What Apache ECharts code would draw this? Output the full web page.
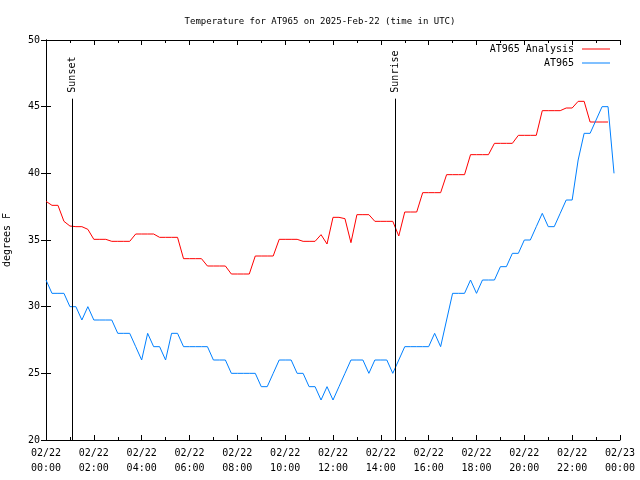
<!DOCTYPE html>
<html>
<head>
<meta charset="utf-8">
<script src="https://cdn.jsdelivr.net/npm/echarts@6/dist/echarts.min.js"></script>
<style>html,body{margin:0;padding:0;background:#fff}#c{width:640px;height:480px}</style>
</head>
<body>
<div id="c"></div>
<script>
var titleText = 'Temperature for AT965 on 2025-Feb-22 (time in UTC)';
var seriesNames = ['AT965 Analysis', 'AT965'];
var times = [
'00:00','00:15','00:30','00:45','01:00','01:15','01:30','01:45',
'02:00','02:15','02:30','02:45','03:00','03:15','03:30','03:45',
'04:00','04:15','04:30','04:45','05:00','05:15','05:30','05:45',
'06:00','06:15','06:30','06:45','07:00','07:15','07:30','07:45',
'08:00','08:15','08:30','08:45','09:00','09:15','09:30','09:45',
'10:00','10:15','10:30','10:45','11:00','11:15','11:30','11:45',
'12:00','12:15','12:30','12:45','13:00','13:15','13:30','13:45',
'14:00','14:15','14:30','14:45','15:00','15:15','15:30','15:45',
'16:00','16:15','16:30','16:45','17:00','17:15','17:30','17:45',
'18:00','18:15','18:30','18:45','19:00','19:15','19:30','19:45',
'20:00','20:15','20:30','20:45','21:00','21:15','21:30','21:45',
'22:00','22:15','22:30','22:45','23:00','23:15','23:30','23:45'
];
var analysis = [
37.9, 37.6, 37.6, 36.4, 36.05, 36.0, 36.0, 35.8,
35.05, 35.05, 35.05, 34.9, 34.9, 34.9, 34.9, 35.45,
35.45, 35.45, 35.45, 35.2, 35.2, 35.2, 35.2, 33.6,
33.6, 33.6, 33.6, 33.05, 33.05, 33.05, 33.05, 32.45,
32.45, 32.45, 32.45, 33.8, 33.8, 33.8, 33.8, 35.05,
35.05, 35.05, 35.05, 34.9, 34.9, 34.9, 35.4, 34.7,
36.7, 36.7, 36.6, 34.8, 36.9, 36.9, 36.9, 36.4,
36.4, 36.4, 36.4, 35.3, 37.1, 37.1, 37.1, 38.55,
38.55, 38.55, 38.55, 39.9, 39.9, 39.9, 39.9, 41.4,
41.4, 41.4, 41.4, 42.25, 42.25, 42.25, 42.25, 42.85,
42.85, 42.85, 42.85, 44.7, 44.7, 44.7, 44.7, 44.9,
44.9, 45.4, 45.4, 43.85, 43.85, 43.85, 43.85
];
var observed = [
32, 31, 31, 31, 30, 30, 29, 30,
29, 29, 29, 29, 28, 28, 28, 27,
26, 28, 27, 27, 26, 28, 28, 27,
27, 27, 27, 27, 26, 26, 26, 25,
25, 25, 25, 25, 24, 24, 25, 26,
26, 26, 25, 25, 24, 24, 23, 24,
23, 24, 25, 26, 26, 26, 25, 26,
26, 26, 25, 26, 27, 27, 27, 27,
27, 28, 27, 29, 31, 31, 31, 32,
31, 32, 32, 32, 33, 33, 34, 34,
35, 35, 36, 37, 36, 36, 37, 38,
38, 41, 43, 43, 44, 45, 45, 40
];
var xTickLabels = ['02/22\n00:00','02/22\n02:00','02/22\n04:00','02/22\n06:00','02/22\n08:00','02/22\n10:00','02/22\n12:00','02/22\n14:00','02/22\n16:00','02/22\n18:00','02/22\n20:00','02/22\n22:00','02/23\n00:00'];
var sunEvents = ['Sunset', 'Sunrise'];
var sunTimes = ['01:06', '14:36'];

function toHours(s) { var p = s.split(':'); return (+p[0]) + (+p[1]) / 60; }

var FONT = 'DejaVu Sans Mono';
var chart = echarts.init(document.getElementById('c'), null, {renderer: 'canvas'});

var sunLines = sunTimes.map(function (t) {
  var h = toHours(t);
  return [{coord: [h, 20]}, {coord: [h, 45.6]}];
});

var axisLine = {show: true, lineStyle: {color: '#000', width: 1}};
var option = {
  animation: false,
  backgroundColor: '#fff',
  title: {
    text: titleText, left: 'center', top: 12,
    textStyle: {fontFamily: FONT, fontSize: 9, fontWeight: 'normal', color: '#000'}
  },
  legend: {
    data: seriesNames.map(function (n) { return {name: n, icon: 'rect'}; }),
    orient: 'vertical', right: 25, top: 38, align: 'right',
    itemWidth: 28, itemHeight: 1, itemGap: 2,
    textStyle: {fontFamily: FONT, fontSize: 10, color: '#000', lineHeight: 12, padding: [0, 3, 0, 0]}
  },
  grid: {left: 46, right: 20, top: 40, bottom: 40, containLabel: false, outerBoundsMode: 'none'},
  xAxis: [{
    type: 'value', min: 0, max: 24, interval: 2, position: 'bottom',
    axisLine: axisLine,
    axisTick: {show: true, inside: true, length: 5, lineStyle: {color: '#000'}},
    minorTick: {show: true, splitNumber: 2, length: 3, lineStyle: {color: '#000'}},
    splitLine: {show: false},
    axisLabel: {
      fontFamily: FONT, fontSize: 10, color: '#000', lineHeight: 15, margin: 6,
      formatter: function (v) { return xTickLabels[Math.round(v / 2)]; }
    }
  }, {
    type: 'value', min: 0, max: 24, interval: 2, position: 'top',
    axisLine: axisLine,
    axisTick: {show: true, inside: true, length: 5, lineStyle: {color: '#000'}},
    minorTick: {show: true, splitNumber: 2, length: 3, lineStyle: {color: '#000'}},
    splitLine: {show: false}, axisLabel: {show: false}
  }],
  yAxis: [{
    type: 'value', min: 20, max: 50, interval: 5, position: 'left',
    name: 'degrees F', nameLocation: 'middle', nameGap: 34, nameRotate: 90,
    nameTextStyle: {fontFamily: FONT, fontSize: 10, color: '#000'},
    axisLine: axisLine,
    axisTick: {show: true, inside: true, length: 5, lineStyle: {color: '#000'}},
    splitLine: {show: false},
    axisLabel: {fontFamily: FONT, fontSize: 10, color: '#000', margin: 6}
  }, {
    type: 'value', min: 20, max: 50, interval: 5, position: 'right',
    axisLine: axisLine,
    axisTick: {show: true, inside: true, length: 5, lineStyle: {color: '#000'}},
    splitLine: {show: false}, axisLabel: {show: false}
  }],
  series: [{
    name: seriesNames[0], type: 'line', xAxisIndex: 0, yAxisIndex: 0,
    symbol: 'none', showSymbol: false,
    lineStyle: {color: '#ff0000', width: 1}, itemStyle: {color: '#ff0000'},
    data: analysis.map(function (v, i) { return [toHours(times[i]), v]; })
  }, {
    name: seriesNames[1], type: 'line', xAxisIndex: 0, yAxisIndex: 0,
    symbol: 'none', showSymbol: false,
    lineStyle: {color: '#0080ff', width: 1}, itemStyle: {color: '#0080ff'},
    data: observed.map(function (v, i) { return [toHours(times[i]), v]; }),
    markLine: {
      silent: true, symbol: 'none', label: {show: false},
      lineStyle: {color: '#000', width: 1, type: 'solid'},
      emphasis: {disabled: true},
      data: sunLines
    }
  }]
};
chart.setOption(option);

var g = sunTimes.map(function (t, i) {
  var p = chart.convertToPixel({xAxisIndex: 0, yAxisIndex: 0}, [toHours(t), 45.6]);
  return {
    type: 'text', x: p[0] + 0.5, y: p[1] - 6, rotation: Math.PI / 2,
    style: {text: sunEvents[i], font: '10px ' + FONT, fill: '#000',
      align: 'left', verticalAlign: 'middle', textAlign: 'left', textVerticalAlign: 'middle'}
  };
});
chart.setOption({graphic: g});
</script>
</body>
</html>
